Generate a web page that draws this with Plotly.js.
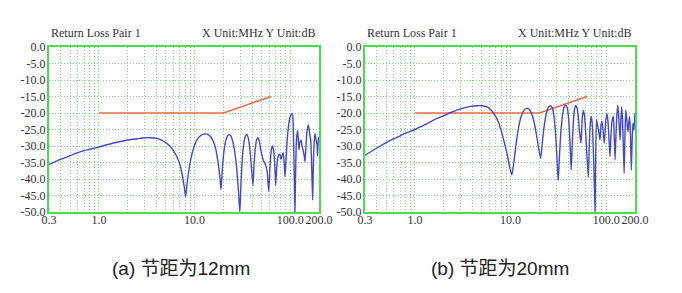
<!DOCTYPE html>
<html>
<head>
<meta charset="utf-8">
<script src="https://cdn.plot.ly/plotly-3.0.1.min.js"></script>
<style>
html,body{margin:0;padding:0;background:#fff;}
#chart{width:682px;height:293px;}
</style>
</head>
<body>
<div id="chart"></div>
<script>
// ---- data ----
const freqA = [0.3,0.4,0.5,0.6,0.7,0.8,1.0,1.3,1.6,2.0,2.5,3.0,3.5,4.0,4.5,5.0,5.5,6.0,6.5,7.0,7.4,7.8,8.05,8.3,8.7,9.2,9.8,10.5,11.5,12.5,13.5,14.5,15.5,16.5,17.5,18.3,18.9,19.5,20.3,21.2,22.5,23.8,25.0,26.5,27.8,28.8,29.7,30.5,31.5,32.8,34.2,35.5,36.8,38.3,39.5,40.8,41.8,43,44.5,45.8,47.5,49.5,52.5,55,57.5,59.6,61.5,63.5,65.5,67.5,69,70.5,72.5,75,78,80,82,84.5,86.5,88.3,90.5,93,96,99,103,105.5,107.5,109.5,111,112,113.5,115.5,117,119.5,121.5,123.6,126,129.7,133,137,140,143,146,150,154.6,158,161,163.7,166.5,169,171.8,174,177,181.6,186,191,193,195,197,200];
const lossA = [-35.6,-34.0,-32.9,-32.0,-31.4,-31.0,-30.3,-29.4,-28.8,-28.2,-27.8,-27.5,-27.5,-27.7,-28.2,-29.0,-30.0,-31.4,-33.2,-35.6,-38.5,-42.5,-45.4,-42,-37.5,-33.5,-30.5,-28.3,-26.9,-26.4,-26.4,-27.0,-28.3,-30.5,-34.5,-39,-43.2,-37,-31.5,-28.3,-26.6,-26.8,-28.5,-32.5,-38,-44,-50,-42,-34,-29,-26.8,-26.6,-28.2,-32.5,-37.5,-42,-36,-31,-28.2,-27.5,-28.5,-31.5,-34.5,-35.5,-38,-43.8,-36,-31,-30.0,-32,-36,-42,-36,-33,-32.5,-34,-33,-32,-35,-39.3,-34,-28,-24,-21.5,-20.3,-20.2,-24,-34,-45,-50,-40,-30,-27.2,-25.3,-28,-31.2,-29,-28.2,-30,-31.5,-33,-34.8,-30,-25.5,-23.6,-25,-27,-28.2,-33,-40,-46.4,-38,-30,-26.2,-28,-29.7,-33,-30,-28,-27.2];

const freqB = [0.3,0.4,0.5,0.6,0.7,0.8,1.0,1.3,1.6,2.0,2.3,2.7,3.2,3.8,4.4,5.0,5.6,6.2,6.8,7.4,8.0,8.6,9.2,9.8,10.3,10.8,11.4,12.1,12.9,13.8,14.7,15.5,16.5,17.5,18.5,19.6,20.6,21.3,22.2,23.3,24.6,26.0,27.4,28.7,29.8,30.7,31.5,32.3,33.5,35,36.5,37.8,39.2,40.5,41.8,43,44.2,45.5,46.8,48,49.5,51,52.5,54.5,56,57.5,59,60.5,62,63.5,65,66.5,68,69.5,71,72.5,74,75.5,76.4,77.5,79.2,81.5,84,86,88,90,92.5,95.5,98.5,101.4,104,106,108,109.6,112,115,118.8,121,123.6,126,129,132,135,137.5,139.6,142,145,148,151,154,157,160,163,166,169,172,176,179,183,186,190,193,195,197,200];
const lossB = [-32.8,-30.6,-29.0,-27.8,-26.9,-26.1,-25.0,-23.4,-22.0,-20.8,-20.0,-19.2,-18.5,-18.0,-17.8,-17.8,-18.1,-19.0,-20.5,-22.5,-25.5,-29,-32.5,-36.5,-38.8,-35,-29.5,-24.5,-21,-19.2,-18.6,-18.8,-20,-22.5,-26,-30.5,-33.7,-30,-25,-21,-18.5,-17.8,-18.6,-22,-28,-35,-40.5,-34,-26,-20.5,-18,-17.6,-18.5,-22,-29,-37.3,-29,-22,-18.5,-17.7,-18.5,-21,-25.5,-29.2,-22,-19.2,-20.5,-24,-30,-35,-39.5,-30,-23.5,-21,-22.5,-27,-35,-44,-50,-35,-22,-24,-26,-28.2,-24,-22.5,-25,-29.2,-23,-20.1,-22,-26,-30,-33.2,-27,-22.5,-21,-26,-34.2,-28,-21,-17.6,-21,-25,-28.2,-23,-18.1,-22,-30,-38.3,-27,-19.1,-21,-24,-25.7,-23,-21.1,-26,-37.3,-30,-23.1,-24,-25.2,-23,-20];

const limitFreq = [1, 20, 63];
const limitLoss = [-20, -20, -15];

const gridFreq = [0.3,0.4,0.5,0.6,0.7,0.8,0.9,1,2,3,4,5,6,7,8,9,10,20,30,40,50,60,70,80,90,100,200];
const gridText = ['0.3','','','','','','','1.0','','','','','','','','','10.0','','','','','','','','','100.0','200.0'];
const yVals = [0,-5,-10,-15,-20,-25,-30,-35,-40,-45,-50];
const yText = ['0.0','-5.0','-10.0','-15.0','-20.0','-25.0','-30.0','-35.0','-40.0','-45.0','-50.0'];

const plotTitle = 'Return Loss Pair 1';
const unitText = 'X Unit:MHz Y Unit:dB';
const captions = ['(a) 节距为12mm', '(b) 节距为20mm'];

// ---- layout ----
const W = 682, H = 293;
const px = v => v / W, py = v => 1 - v / H;
const blue = '#4448c8', red = '#e8694a', frame = '#4cdc4c', grid = '#86e086';
const serif = 'Liberation Serif';

function xAxis(l, r, anchor) {
  return {
    type: 'log', domain: [px(l), px(r)], anchor: anchor,
    range: [Math.log10(0.3), Math.log10(200)],
    tickmode: 'array', tickvals: gridFreq, ticktext: gridText, tickangle: 0,
    ticklabelstandoff: -4,
    showgrid: true, gridcolor: grid, griddash: '1px,2px', gridwidth: 1,
    showline: true, mirror: true, linecolor: frame, linewidth: 2,
    ticks: '', zeroline: false, fixedrange: true,
    tickfont: {family: serif, size: 12, color: '#333'}
  };
}
function yAxis(anchor) {
  return {
    domain: [py(212), py(47)], anchor: anchor, range: [-50, 0],
    tickmode: 'array', tickvals: yVals, ticktext: yText,
    ticklabelstandoff: -1,
    showgrid: true, gridcolor: grid, griddash: '1px,2px', gridwidth: 1,
    showline: true, mirror: true, linecolor: frame, linewidth: 2,
    ticks: '', zeroline: false, fixedrange: true,
    tickfont: {family: serif, size: 12, color: '#333'}
  };
}

const traces = [
  {x: limitFreq, y: limitLoss, xaxis: 'x', yaxis: 'y', mode: 'lines', line: {color: red, width: 1.5}},
  {x: freqA, y: lossA, xaxis: 'x', yaxis: 'y', mode: 'lines', line: {color: blue, width: 1.4, shape: 'spline', smoothing: 0.5}},
  {x: limitFreq, y: limitLoss, xaxis: 'x2', yaxis: 'y2', mode: 'lines', line: {color: red, width: 1.5}},
  {x: freqB, y: lossB, xaxis: 'x2', yaxis: 'y2', mode: 'lines', line: {color: blue, width: 1.4, shape: 'spline', smoothing: 0.5}}
];

const tFont = {family: serif, size: 12, color: '#333'};
const cFont = {family: 'Liberation Sans, Noto Sans CJK SC', size: 19, color: '#222'};
const annotations = [
  {text: plotTitle, x: px(49), y: py(33), xanchor: 'left', yanchor: 'middle', font: tFont},
  {text: unitText, x: px(317), y: py(33), xanchor: 'right', yanchor: 'middle', font: tFont},
  {text: plotTitle, x: px(365), y: py(33), xanchor: 'left', yanchor: 'middle', font: tFont},
  {text: unitText, x: px(633), y: py(33), xanchor: 'right', yanchor: 'middle', font: tFont},
  {text: captions[0], x: px(181), y: py(268), xanchor: 'center', yanchor: 'middle', font: cFont},
  {text: captions[1], x: px(500), y: py(268), xanchor: 'center', yanchor: 'middle', font: cFont}
].map(a => Object.assign({xref: 'paper', yref: 'paper', showarrow: false}, a));

const layout = {
  width: W, height: H,
  margin: {l: 0, r: 0, t: 0, b: 0, autoexpand: false},
  paper_bgcolor: '#fff', plot_bgcolor: '#fff',
  showlegend: false,
  xaxis: xAxis(49, 319, 'y'), yaxis: yAxis('x'),
  xaxis2: xAxis(365, 635, 'y2'), yaxis2: yAxis('x2'),
  annotations: annotations
};

Plotly.newPlot('chart', traces, layout, {staticPlot: true, displayModeBar: false});
</script>
</body>
</html>
